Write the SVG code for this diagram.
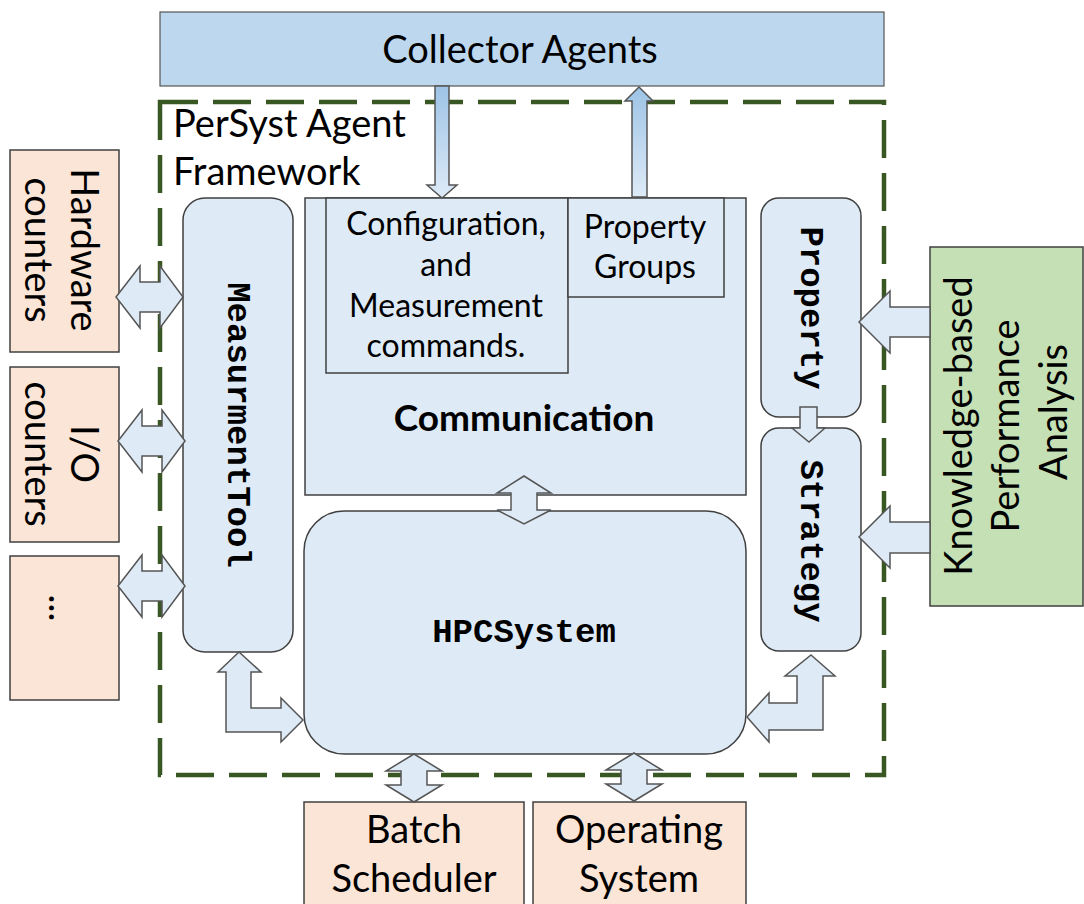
<svg xmlns="http://www.w3.org/2000/svg" width="1084" height="904" viewBox="0 0 1084 904">
<defs>
<linearGradient id="gv" x1="0" y1="0" x2="0" y2="1">
<stop offset="0" stop-color="#9dc3e6"/>
<stop offset="1" stop-color="#deebf7"/>
</linearGradient>
<style>
.box{fill:#deebf7;stroke:#404040;stroke-width:1.5}
.peach{fill:#fbe5d6;stroke:#404040;stroke-width:1.5}
.green{fill:#c5e0b4;stroke:#404040;stroke-width:1.5}
.arr{fill:#deebf7;stroke:#555;stroke-width:1.5;stroke-linejoin:miter}
.garr{fill:url(#gv);stroke:#555;stroke-width:1.5}
.t{font-family:Lato,"Liberation Sans",sans-serif;font-size:38px;fill:#000;text-anchor:middle}
.ts{font-family:Lato,"Liberation Sans",sans-serif;font-size:32px;fill:#000;text-anchor:middle}
.tb{font-family:Lato,"Liberation Sans",sans-serif;font-size:37px;font-weight:bold;fill:#000;text-anchor:middle}
.m{font-family:"Liberation Mono","Courier New",monospace;font-size:34px;font-weight:bold;fill:#000;text-anchor:middle}
</style>
</defs>
<rect width="1084" height="904" fill="#fff"/>

<g id="frame">
<rect x="160" y="102" width="724" height="673" fill="none" stroke="#385723" stroke-width="4.5" stroke-dasharray="38 15"/>
<text class="t" x="173" y="137" style="text-anchor:start">PerSyst Agent</text>
<text class="t" x="173" y="185" style="text-anchor:start">Framework</text>
</g>

<g id="collector">
<rect x="160" y="12" width="724" height="74" fill="#bdd7ee" stroke="#555" stroke-width="1.2"/>
<text class="t" x="520" y="63">Collector Agents</text>
</g>

<g id="hardware">
<rect class="peach" x="10" y="150" width="109" height="202"/>
<g transform="translate(64,250) rotate(90)">
<text class="t" x="0" y="-7">Hardware</text>
<text class="t" x="0" y="39">counters</text>
</g>
</g>
<g id="io">
<rect class="peach" x="10" y="367" width="109" height="175"/>
<g transform="translate(64,454) rotate(90)">
<text class="t" x="0" y="-7">I/O</text>
<text class="t" x="0" y="39">counters</text>
</g>
</g>
<g id="other">
<rect class="peach" x="10" y="556" width="109" height="144"/>
<g transform="translate(64,608) rotate(90)">
<text class="t" x="0" y="15">...</text>
</g>
</g>

<g id="measurementtool">
<rect class="box" x="183" y="198" width="110" height="454" rx="22"/>
<g transform="translate(238,425) rotate(90)">
<text class="m" x="0" y="10">MeasurmentTool</text>
</g>
</g>

<g id="communication">
<rect class="box" x="305" y="198" width="441" height="297"/>
<text class="tb" x="524" y="431">Communication</text>
</g>
<g id="configuration">
<rect class="box" x="326" y="198" width="242" height="175"/>
<text class="ts" x="446" y="235">Configuration,</text>
<text class="ts" x="446" y="276">and</text>
<text class="ts" x="446" y="317">Measurement</text>
<text class="ts" x="446" y="357">commands.</text>
</g>
<g id="propertygroups">
<rect class="box" x="568" y="198" width="156" height="99"/>
<text class="ts" x="645" y="238">Property</text>
<text class="ts" x="645" y="278">Groups</text>
</g>

<g id="hpcsystem">
<rect class="box" x="304" y="511" width="442" height="243" rx="40"/>
<text class="m" x="524" y="642">HPCSystem</text>
</g>

<g id="property">
<rect class="box" x="761" y="198" width="100" height="219" rx="18"/>
<g transform="translate(811,308) rotate(90)">
<text class="m" x="0" y="10">Property</text>
</g>
</g>
<g id="strategy">
<rect class="box" x="761" y="428" width="100" height="223" rx="18"/>
<g transform="translate(811,541) rotate(90)">
<text class="m" x="0" y="10">Strategy</text>
</g>
</g>

<g id="knowledge">
<rect class="green" x="930" y="247" width="153" height="359"/>
<g transform="translate(1010,426) rotate(-90)">
<text class="t" x="0" y="-38">Knowledge-based</text>
<text class="t" x="0" y="9">Performance</text>
<text class="t" x="14" y="57">Analysis</text>
</g>
</g>

<g id="batch">
<rect class="peach" x="304" y="802" width="220" height="110"/>
<text class="t" x="414" y="843">Batch</text>
<text class="t" x="414" y="892">Scheduler</text>
</g>
<g id="os">
<rect class="peach" x="533" y="802" width="213" height="110"/>
<text class="t" x="639" y="843">Operating</text>
<text class="t" x="639" y="892">System</text>
</g>

<g id="connectors">
<polygon class="garr" points="435,86 449,86 449,185 457,185 442,198 427,185 435,185"/>
<polygon class="garr" points="632,197 647,197 647,101 653,101 639,87 625,101 632,101"/>
<polygon class="arr" points="116,297 140,266 140,282 160,282 160,266 183,297 160,328 160,312 140,312 140,328"/>
<polygon class="arr" points="118,441 142,410 142,426 162,426 162,410 185,441 162,472 162,456 142,456 142,472"/>
<polygon class="arr" points="118,586 142,555 142,571 162,571 162,555 185,586 162,617 162,601 142,601 142,617"/>
<polygon class="arr" points="524,476 551,493 537,493 537,510 551,510 524,524 497,510 511,510 511,493 497,493"/>
<polygon class="arr" points="414,754 442,771 427,771 427,785 442,785 414,802 386,785 401,785 401,771 386,771"/>
<polygon class="arr" points="634,753 662,770 647,770 647,784 662,784 634,801 606,784 621,784 621,770 606,770"/>
<polygon class="arr" points="800,407 817,407 817,428 825,428 809,442 792,428 800,428"/>
<polygon class="arr" points="859,322 890,291 890,307 930,307 930,337 890,337 890,353"/>
<polygon class="arr" points="859,537 890,506 890,522 930,522 930,553 890,553 890,568"/>
<polygon class="arr" points="239,652 261,672 251,672 251,708 281,708 281,698 303,720 281,742 281,732 226,732 226,672 218,672"/>
<polygon class="arr" points="811,655 835,676 823,676 823,730 769,730 769,742 747,717 769,693 769,703 797,703 797,676 785,676"/>
</g>
</svg>
